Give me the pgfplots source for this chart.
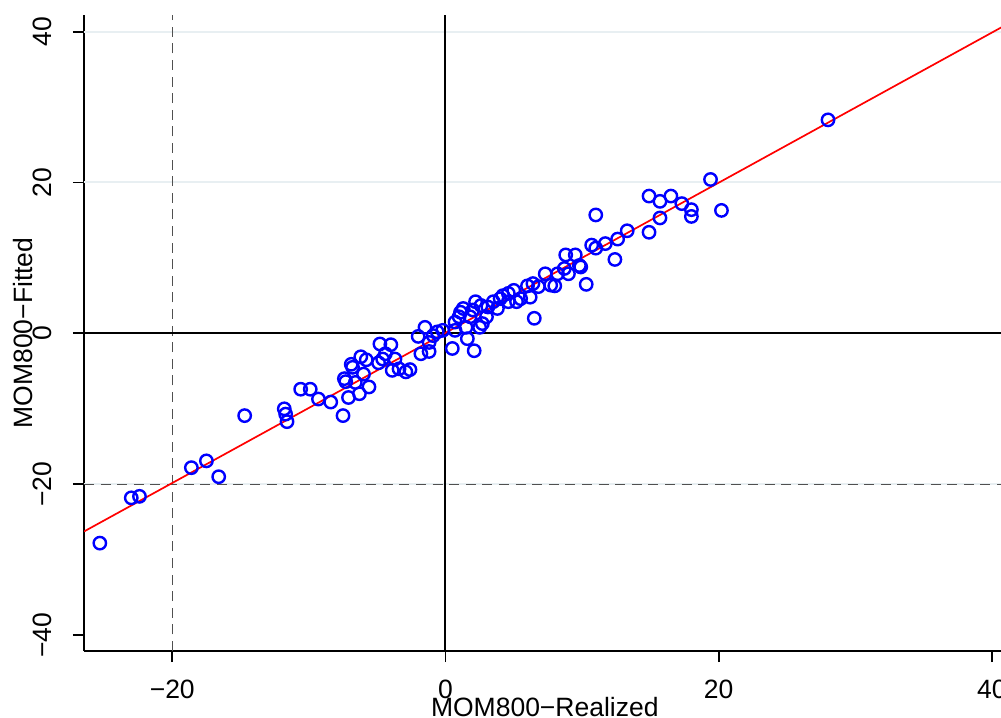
\documentclass[border=0pt]{standalone}
\usepackage{fontspec}
\setmainfont{Liberation Sans}
\usepackage{pgfplots}
\pgfplotsset{compat=1.18}
\definecolor{gridc}{RGB}{232,239,242}
\definecolor{dashc}{RGB}{80,80,80}
\begin{document}
\begin{tikzpicture}
\begin{axis}[name=ax, scale only axis, width=460.8bp, height=318bp,
 xmin=-26.46, xmax=41, ymin=-42.1, ymax=42.2,
 axis lines*=left,
 axis line style={line width=1bp, black},
 xtick={-20,0,20,40}, xticklabels={−20,0,20,40},
 ytick={-40,-20,0,20,40}, yticklabels={−40,−20,0,20,40},
 tick align=outside, major tick length=5.5bp,
 tick style={black, line width=0.9bp},
 font=\fontsize{13.3}{16}\selectfont,
 xticklabel style={anchor=base, inner sep=0pt},
 xticklabel shift=18bp,
 yticklabel style={rotate=90, anchor=base, inner sep=0pt},
 yticklabel shift=11bp,
 xlabel={MOM800−Realized}, ylabel={MOM800−Fitted},
 xlabel style={at={(axis description cs:0.5,-0.1022)}, anchor=base, inner sep=0pt},
 ylabel style={at={(axis description cs:-0.0564,0.5)}, rotate=0, anchor=base, inner sep=0pt},
 clip=true,
]
\draw[gridc, line width=1bp] (-26.46,40) -- (41,40);
\draw[gridc, line width=1bp] (-26.46,20) -- (41,20);
\draw[gridc, line width=1bp] (-26.46,-20) -- (41,-20);
\draw[dashc, line width=0.7bp, dash pattern=on 5bp off 3.3bp] (-20,-42.1) -- (-20,42.2);
\draw[dashc, line width=0.7bp, dash pattern=on 5bp off 3.3bp] (-26.46,-20) -- (41,-20);
\draw[black, line width=1bp] (0,-42.1) -- (0,42.2);
\draw[black, line width=1bp] (-26.46,0) -- (41,0);
\addplot[only marks, mark=o, blue, mark size=3.1bp, mark options={line width=1.2bp}] table {
x y
-25.3 -27.8
-23.0 -21.8
-22.4 -21.6
-18.6 -17.8
-17.5 -16.9
-16.6 -19.0
-14.7 -10.9
-11.8 -10.0
-11.7 -10.7
-11.6 -11.7
-10.6 -7.4
-9.9 -7.4
-9.3 -8.7
-8.4 -9.1
-7.5 -10.9
-7.4 -6.0
-7.3 -6.4
-7.1 -8.5
-6.9 -4.1
-6.8 -4.5
-6.6 -6.5
-6.3 -8.0
-6.2 -3.1
-6.0 -5.4
-5.8 -3.5
-5.6 -7.1
-4.8 -1.4
-4.9 -3.9
-4.6 -3.4
-4.4 -2.7
-4.0 -1.5
-3.7 -3.4
-3.9 -4.9
-3.4 -4.7
-2.9 -5.1
-2.6 -4.8
-2.0 -0.4
-1.5 0.8
-1.8 -2.7
-1.2 -2.4
-1.2 -1.2
-0.9 -0.3
-0.6 0.2
-0.2 0.4
0.5 -2.0
0.7 0.4
0.7 1.5
1.0 2.2
1.1 2.8
1.3 3.3
1.5 0.8
1.6 -0.7
1.8 2.2
2.0 3.1
2.1 -2.3
2.2 4.2
2.5 0.8
2.6 3.7
2.7 1.3
3.0 2.2
3.1 3.5
3.5 4.2
3.8 3.3
4.0 4.6
4.2 5.0
4.6 5.3
4.6 4.2
5.0 5.7
5.2 4.2
5.5 4.6
6.0 6.3
6.2 4.8
6.4 6.6
6.5 2.0
6.8 6.2
7.3 7.9
7.7 6.4
8.0 6.3
8.2 7.9
8.7 8.6
8.8 10.4
9.0 7.9
9.5 10.4
9.8 9.0
9.9 8.8
10.3 6.5
10.7 11.7
11.0 11.3
11.7 11.9
12.4 9.8
12.6 12.5
13.3 13.6
14.9 13.4
11.0 15.7
14.9 18.2
15.7 17.5
16.5 18.2
17.3 17.2
18.0 16.4
18.0 15.5
15.7 15.3
19.4 20.4
20.2 16.3
28.0 28.3
};
\addplot[red, line width=0.85bp] coordinates {(-26.46,-26.26) (41,40.87)};
\end{axis}
\pgfresetboundingbox
\path ([shift={(-42bp,-33.5bp)}]ax.south west) rectangle ([shift={(458.5bp,325.5bp)}]ax.south west);
\end{tikzpicture}
\end{document}
